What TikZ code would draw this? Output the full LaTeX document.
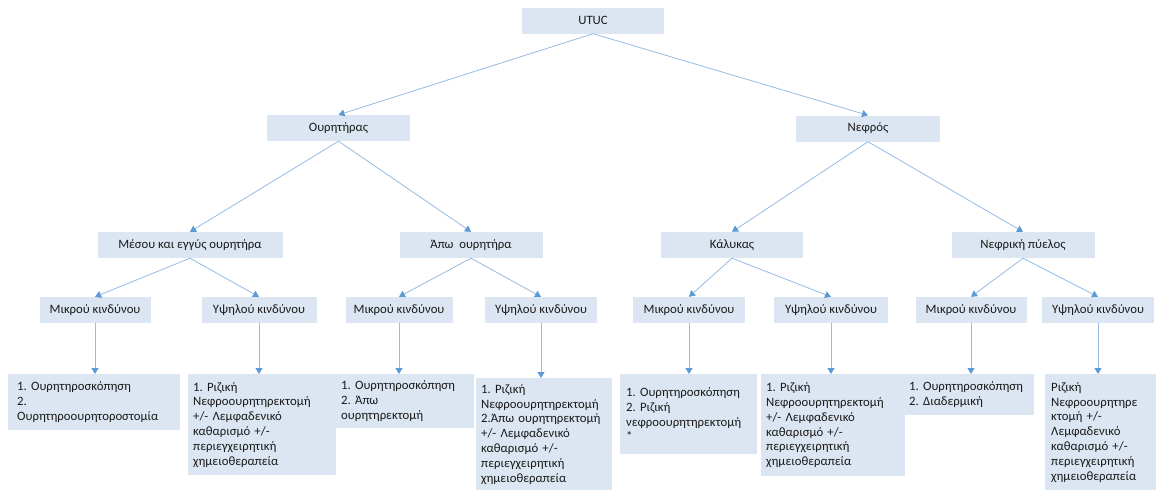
\documentclass[tikz,border=0pt]{standalone}
\usepackage{fontspec}
\setmainfont{Carlito}
\usetikzlibrary{arrows.meta}
\definecolor{boxfill}{HTML}{DCE6F2}
\definecolor{linec}{HTML}{97BBE2}
\definecolor{tipc}{HTML}{5B9BD5}
\definecolor{txt}{HTML}{1A1A1A}
\newcommand\myNoHyph{\hyphenpenalty=10000 \exhyphenpenalty=10000\relax\frenchspacing}
\begin{document}
\begin{tikzpicture}[x=1pt,y=-1pt,
  hbox/.style={fill=boxfill, text=txt, minimum height=26pt, inner sep=0pt, font=\fontsize{12.75}{15}\selectfont},
  leaf/.style={fill=boxfill, text=txt, anchor=north west, align=left, inner ysep=4pt, font=\fontsize{12.75}{14.8}\selectfont\myNoHyph},
  conn/.style={draw=linec, line width=0.8pt, -{Triangle[length=6pt,width=7pt,fill=tipc,color=tipc]}}]
\useasboundingbox[fill=white] (0,0) rectangle (1156,493);
% level 1
\node[hbox, minimum width=142pt] (root) at (593,20.5) {UTUC};
% level 2
\node[hbox, minimum width=143pt] (our) at (338.5,128) {Ουρητήρας};
\node[hbox, minimum width=144pt] (nef) at (868,128.5) {Νεφρός};
% level 3
\node[hbox, minimum width=185pt] (mes) at (190,245) {Μέσου και εγγύς ουρητήρα};
\node[hbox, minimum width=143pt] (apo) at (471,245) {Άπω~~ουρητήρα};
\node[hbox, minimum width=142pt] (kal) at (732,245) {Κάλυκας};
\node[hbox, minimum width=143pt] (pye) at (1023,245) {Νεφρική πύελος};
% level 4
\node[hbox, minimum width=111pt] (r1) at (95,310) {Μικρού κινδύνου};
\node[hbox, minimum width=115pt] (r2) at (259,310) {Υψηλού κινδύνου};
\node[hbox, minimum width=107pt] (r3) at (399,310) {Μικρού κινδύνου};
\node[hbox, minimum width=112pt] (r4) at (541,310) {Υψηλού κινδύνου};
\node[hbox, minimum width=112pt] (r5) at (689,310) {Μικρού κινδύνου};
\node[hbox, minimum width=114pt] (r6) at (831,310) {Υψηλού κινδύνου};
\node[hbox, minimum width=111pt] (r7) at (971,310) {Μικρού κινδύνου};
\node[hbox, minimum width=112pt] (r8) at (1098,310) {Υψηλού κινδύνου};
% leaves
\node[leaf, inner xsep=9pt, text width=154pt, minimum height=56pt] (l1) at (8,374) {1. Ουρητηροσκόπηση\\2.\\Ουρητηροουρητοροστομία};
\node[leaf, inner xsep=5pt, text width=138pt, minimum height=101pt] (l2) at (188,374) {1. Ριζική\\Νεφροουρητηρεκτομή\\+/- Λεμφαδενικό\\καθαρισμό +/-\\περιεγχειρητική\\χημειοθεραπεία};
\node[leaf, inner xsep=7pt, text width=126pt, minimum height=54pt] (l3) at (334,374) {1. Ουρητηροσκόπηση\\2. Άπω\\ουρητηρεκτομή};
\node[leaf, inner xsep=5pt, text width=126pt, minimum height=112pt] (l4) at (476,378) {1. Ριζική\\Νεφροουρητηρεκτομή\\2.Άπω ουρητηρεκτομή\\+/- Λεμφαδενικό\\καθαρισμό +/-\\περιεγχειρητική\\χημειοθεραπεία};
\node[leaf, inner xsep=6pt, text width=125pt, minimum height=80pt] (l5) at (620,374) {1. Ουρητηροσκόπηση\\2. Ριζική\\νεφροουρητηρεκτομή\\{*}};
\node[leaf, inner xsep=5pt, text width=134pt, minimum height=102pt] (l6) at (761,374) {1. Ριζική\\Νεφροουρητηρεκτομή\\+/- Λεμφαδενικό\\καθαρισμό +/-\\περιεγχειρητική\\χημειοθεραπεία};
\node[leaf, inner xsep=7pt, text width=118pt, minimum height=41pt] (l7) at (902,374) {1. Ουρητηροσκόπηση\\2. Διαδερμική};
\node[leaf, inner xsep=6pt, text width=99pt, minimum height=116pt] (l8) at (1045,374) {Ριζική\\Νεφροουρητηρε\\κτομή +/-\\Λεμφαδενικό\\καθαρισμό +/-\\περιεγχειρητική\\χημειοθεραπεία};
% connectors
\draw[conn] (root.south) -- (our.north);
\draw[conn] (root.south) -- (nef.north);
\draw[conn] (our.south) -- (mes.north);
\draw[conn] (our.south) -- (apo.north);
\draw[conn] (nef.south) -- (kal.north);
\draw[conn] (nef.south) -- (pye.north);
\draw[conn] (mes.south) -- (r1.north);
\draw[conn] (mes.south) -- (r2.north);
\draw[conn] (apo.south) -- (r3.north);
\draw[conn] (apo.south) -- (r4.north);
\draw[conn] (kal.south) -- (r5.north);
\draw[conn] (kal.south) -- (r6.north);
\draw[conn] (pye.south) -- (r7.north);
\draw[conn] (pye.south) -- (r8.north);
\draw[conn] (r1.south) -- (r1.south |- l1.north);
\draw[conn] (r2.south) -- (r2.south |- l2.north);
\draw[conn] (r3.south) -- (r3.south |- l3.north);
\draw[conn] (r4.south) -- (r4.south |- l4.north);
\draw[conn] (r5.south) -- (r5.south |- l5.north);
\draw[conn] (r6.south) -- (r6.south |- l6.north);
\draw[conn] (r7.south) -- (r7.south |- l7.north);
\draw[conn] (r8.south) -- (r8.south |- l8.north);
\end{tikzpicture}
\end{document}
